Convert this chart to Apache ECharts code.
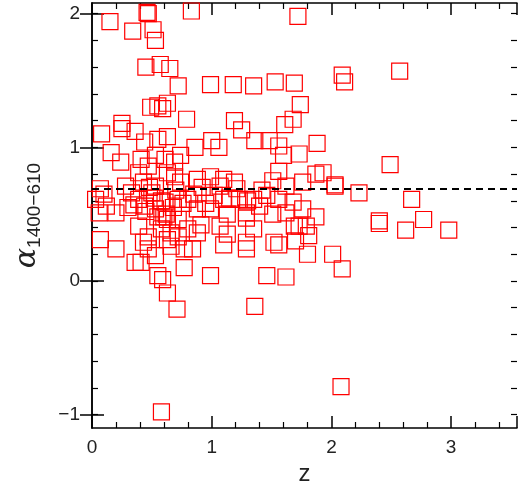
<!DOCTYPE html>
<html>
<head>
<meta charset="utf-8">
<script src="https://cdn.jsdelivr.net/npm/echarts@6/dist/echarts.min.js"></script>
<style>html,body{margin:0;padding:0;background:#fff}#chart{width:520px;height:491px}</style>
</head>
<body>
<div id="chart"></div>
<script>
// redshift z and spectral index alpha(1400-610)
const zValues = [
  0.15,0.46,0.47,0.83,1.72,0.34,0.51,0.53,0.45,0.57,0.65,0.72,0.99,1.18,1.35,1.53,1.69,2.09,2.11,2.57,
  0.08,0.25,0.25,0.36,0.49,0.55,0.63,0.59,0.79,1.19,1.25,1.36,1.48,1.56,1.61,1.68,1.74,1.88,0.44,0.55,
  0.63,0.86,1.0,1.06,1.73,0.16,
  2.49,2.03,2.23,2.67,2.40,2.40,2.77,2.62,2.98,0.71,1.36,2.08,0.58,
  0.07,0.1,0.06,0.2,0.24,0.07,0.2,0.36,0.41,0.43,0.47,0.53,0.55,0.59,0.63,0.77,0.77,0.84,0.99,1.1,
  1.13,1.29,1.29,1.35,1.46,1.62,1.52,1.56,1.7,1.81,1.8,2.01,2.09,1.87,1.73,1.62,1.51,1.29,1.13,0.91,
  1.07,0.39,0.47,0.66,0.72,0.8,0.88,
  0.43,0.53,0.63,0.69,0.74,0.88,0.99,1.1,1.19,1.02,1.1,1.23,0.8,0.72,0.61,0.53,0.44,0.39,0.33,0.28,
  0.55,0.63,0.72,0.58,0.63,0.66,1.51,1.56,1.62,1.76,1.87,1.93,2.03,1.46,1.56,1.68,1.76,1.69,1.79,1.35,
  1.4,1.29,0.99,0.88,0.53,0.61,0.69,0.74,0.47,0.39,0.41,1.6,1.07,1.21,0.12,0.03,
  0.3,0.5,0.68,0.85,0.95,1.3,1.42,0.6,0.45,0.7,0.52,0.62,0.76,0.92,1.15,0.35,0.58,0.48
];
const alphaValues = [
  1.94,2.01,2.0,2.02,1.98,1.87,1.88,1.8,1.6,1.62,1.59,1.46,1.47,1.47,1.46,1.49,1.48,1.54,1.49,1.57,
  1.1,1.18,1.14,1.12,1.3,1.31,1.33,1.29,1.21,1.2,1.13,1.05,1.05,1.01,1.17,1.21,1.32,1.03,1.04,1.06,
  1.08,1.0,1.05,1.0,0.95,0.96,
  0.87,0.71,0.66,0.61,0.43,0.45,0.46,0.38,0.38,-0.21,-0.19,-0.79,-0.98,
  0.69,0.65,0.51,0.51,0.89,0.31,0.24,0.14,0.14,0.29,0.24,0.19,0.04,0.01,-0.09,0.1,0.24,0.24,0.04,0.27,
  0.35,0.24,0.29,0.39,0.04,0.03,0.29,0.27,0.3,0.34,0.2,0.2,0.09,0.48,0.41,0.51,0.5,0.47,0.5,0.42,
  0.41,0.41,0.33,0.36,0.33,0.39,0.36,
  0.74,0.71,0.81,0.78,0.74,0.76,0.78,0.76,0.74,0.64,0.61,0.61,0.61,0.61,0.59,0.54,0.56,0.61,0.66,0.71,
  0.48,0.46,0.46,0.39,0.31,0.26,0.75,0.82,0.71,0.74,0.8,0.81,0.72,0.64,0.61,0.59,0.54,0.41,0.41,0.61,
  0.56,0.51,0.54,0.54,0.94,0.91,0.89,0.94,0.86,0.81,0.91,0.94,0.71,0.69,0.56,0.61,
  0.55,0.66,0.55,0.65,0.58,0.6,0.68,0.48,0.52,0.68,0.62,0.5,0.58,0.7,0.62,0.57,0.6,0.7
];
const xTickLabels = [0, 1, 2, 3];
const yTickLabels = [-1, 0, 1, 2];
const yMinorTicks = [];
for (let v = -1; v <= 2.001; v += 0.2) yMinorTicks.push(Math.round(v * 10) / 10);
const meanAlpha = 0.69;

const points = zValues.map((z, i) => [z, alphaValues[i]]);

const chart = echarts.init(document.getElementById("chart"));
const font = "Liberation Sans";
const Y_MIN = -1.1, Y_MAX = 2.08;

const yAxisBase = (pos, labels) => ({
  type: "value", min: Y_MIN, max: Y_MAX, position: pos,
  axisLine: { show: true, lineStyle: { color: "#000", width: 1.5 } },
  axisTick: { show: true, inside: true, length: 12, customValues: yTickLabels, lineStyle: { color: "#000", width: 1.5 } },
  axisLabel: { show: labels, customValues: yTickLabels, fontFamily: font, fontSize: 19, color: "#222", margin: 12,
    formatter: v => (v < 0 ? "\u2212" + Math.abs(v) : String(v)) },
  splitLine: { show: false }
});
const yMinorAxis = pos => ({
  type: "value", min: Y_MIN, max: Y_MAX, position: pos,
  axisLine: { show: false },
  axisTick: { show: true, inside: true, length: 6, customValues: yMinorTicks, lineStyle: { color: "#000", width: 1.2 } },
  axisLabel: { show: false }, splitLine: { show: false }
});
const xAxisBase = (pos, labels) => ({
  type: "value", min: 0, max: 3.55, interval: 1, position: pos,
  axisLine: { show: true, onZero: false, lineStyle: { color: "#000", width: 1.5 } },
  axisTick: { show: true, inside: true, length: 12, lineStyle: { color: "#000", width: 1.5 } },
  minorTick: { show: true, splitNumber: 5, length: 6, lineStyle: { color: "#000", width: 1.2 } },
  axisLabel: { show: labels, fontFamily: font, fontSize: 19, color: "#222", margin: 10,
    formatter: v => (xTickLabels.includes(v) ? String(v) : "") },
  splitLine: { show: false }
});

chart.setOption({
  animation: false,
  grid: { left: 92, right: 3, top: 3, bottom: 63 },
  xAxis: [
    Object.assign(xAxisBase("bottom", true), { name: "z", nameLocation: "middle", nameGap: 30,
      nameTextStyle: { fontFamily: font, fontSize: 24, color: "#222" } }),
    xAxisBase("top", false)
  ],
  yAxis: [
    Object.assign(yAxisBase("left", true), {
      name: "{a|\u03b1}{s|1400\u2212610}", nameLocation: "middle", nameGap: 48, nameRotate: 90,
      nameTextStyle: { rich: {
        a: { fontFamily: "DejaVu Serif", fontStyle: "italic", fontSize: 30, color: "#222" },
        s: { fontFamily: font, fontSize: 19, color: "#222", padding: [14, 0, 0, 0] }
      } }
    }),
    yAxisBase("right", false),
    yMinorAxis("left"),
    yMinorAxis("right")
  ],
  series: [{
    type: "scatter",
    data: points,
    large: false,
    progressive: 0,
    symbol: "rect",
    symbolSize: 16,
    itemStyle: { color: "none", borderColor: "#ff0000", borderWidth: 1.2, opacity: 1 },
    emphasis: { disabled: true },
    markLine: {
      silent: true, symbol: "none", label: { show: false },
      lineStyle: { color: "#000", type: [7, 5], width: 2 },
      data: [{ yAxis: meanAlpha }]
    }
  }]
});
</script>
</body>
</html>
